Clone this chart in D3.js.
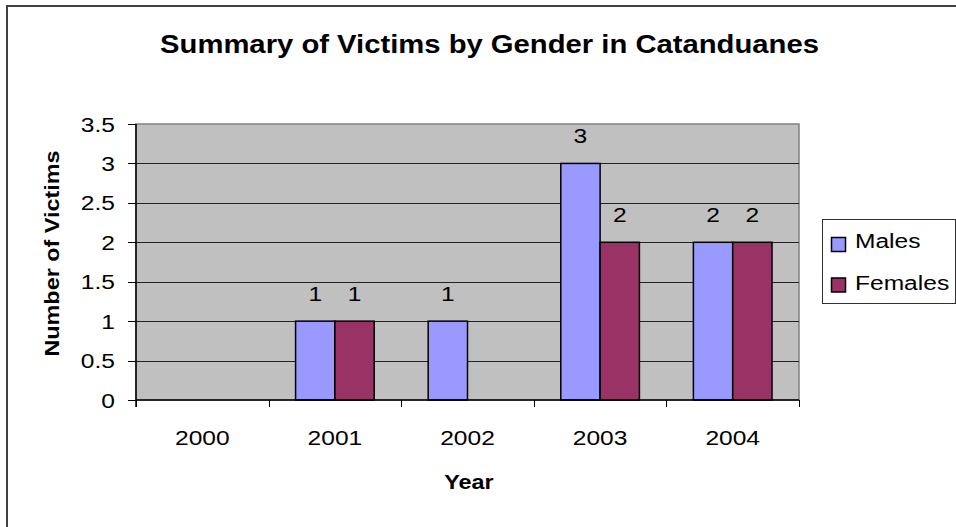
<!DOCTYPE html>
<html><head><meta charset="utf-8">
<script src="https://cdn.jsdelivr.net/npm/d3@7"></script>
<style>body{margin:0;background:#fff}svg{display:block;font-family:Arial,"Liberation Sans",sans-serif}</style>
</head><body><svg id="c" width="956" height="527"></svg>
<script>
const years = ["2000","2001","2002","2003","2004"];
const seriesNames = ["Males","Females"];
const males = [0,1,1,3,2];
const females = [0,1,0,2,2];
const yTicks = [0,0.5,1,1.5,2,2.5,3,3.5];
const colors = ["#9999FF","#993366"];
const title = "Summary of Victims by Gender in Catanduanes";

const SX = 1.17; // horizontal stretch of the original's text
const svg = d3.select("#c");
const L=136,R=799,T=124,B=400;
function txt(parent,x,y,s,opts={}){
  const g = parent.append("g").attr("transform",`translate(${x},${y})${opts.rot?" rotate("+opts.rot+")":""} scale(${SX},1)`);
  const t = g.append("text").attr("x",0).attr("y",0).attr("font-size",opts.size||21)
    .attr("text-anchor",opts.anchor||"middle").attr("fill","#000").text(s);
  if(opts.bold) t.attr("font-weight","bold");
  if(opts.dy) t.attr("dy",opts.dy);
  return t;
}
svg.append("rect").attr("x",7).attr("y",6).attr("width",1000).attr("height",600).attr("fill","#fff").attr("stroke","#404040").attr("stroke-width",2);

const x = d3.scaleBand().domain(years).range([L,R]);
const y = d3.scaleLinear().domain([0,3.5]).range([B,T]);
const x1 = d3.scaleBand().domain(seriesNames).range([x.bandwidth()*0.2035, x.bandwidth()*0.7965]);

svg.append("rect").attr("x",L).attr("y",T).attr("width",R-L).attr("height",B-T).attr("fill","#C0C0C0").attr("stroke","#808080").attr("stroke-width",1.5);
svg.append("g").selectAll("line").data(yTicks.slice(1,-1)).join("line")
  .attr("x1",L).attr("x2",R).attr("y1",d=>Math.round(y(d))+0.5).attr("y2",d=>Math.round(y(d))+0.5).attr("stroke","#222").attr("stroke-width",1);

const data = years.map((yr,i)=>({year:yr, vals:[{k:"Males",v:males[i]},{k:"Females",v:females[i]}]}));
data.forEach(d=>{
  d.vals.filter(e=>e.v>0).forEach(e=>{
    svg.append("rect").attr("x",x(d.year)+x1(e.k)).attr("width",x1.bandwidth()).attr("y",y(e.v)).attr("height",B-y(e.v))
      .attr("fill",colors[seriesNames.indexOf(e.k)]).attr("stroke","#000").attr("stroke-width",1.5);
  });
});
data.forEach(d=>{
  d.vals.filter(e=>e.v>0).forEach(e=>{
    txt(svg, x(d.year)+x1(e.k)+x1.bandwidth()/2, y(e.v)-20, String(e.v));
  });
});

// y axis
const ya = svg.append("g");
ya.append("line").attr("x1",L).attr("x2",L).attr("y1",T).attr("y2",B+7).attr("stroke","#000").attr("stroke-width",1.5);
yTicks.forEach(v=>{
  ya.append("line").attr("x1",L-8).attr("x2",L).attr("y1",Math.round(y(v))+0.5).attr("y2",Math.round(y(v))+0.5).attr("stroke","#000");
  txt(ya, 115, y(v), d3.format("")(v), {anchor:"end", dy:"0.36em"});
});

// x axis
const xa = svg.append("g");
xa.append("line").attr("x1",L).attr("x2",R).attr("y1",B).attr("y2",B).attr("stroke","#000").attr("stroke-width",1.5);
years.map(d=>x(d)).concat([R]).forEach(px=>{
  xa.append("line").attr("x1",Math.round(px)+0.5).attr("x2",Math.round(px)+0.5).attr("y1",B).attr("y2",B+7).attr("stroke","#000");
});
years.forEach(d=>txt(xa, x(d)+x.bandwidth()/2, 445, d));

txt(svg, 489.5, 53, title, {bold:true, size:25});
txt(svg, 469, 489, "Year", {bold:true, size:20});
txt(svg, 58.5, 253.5, "Number of Victims", {bold:true, size:20, rot:-90});

// legend
const lg = svg.append("g");
lg.append("rect").attr("x",822.5).attr("y",219.5).attr("width",133).attr("height",84).attr("fill","#fff").attr("stroke","#333").attr("stroke-width",1);
seriesNames.forEach((s,i)=>{
  lg.append("rect").attr("x",831.5).attr("y",237.5+i*40.5).attr("width",14).attr("height",14)
    .attr("fill",colors[i]).attr("stroke","#000").attr("stroke-width",1.5);
  txt(lg, 855, 248+i*42, s, {anchor:"start"});
});
</script></body></html>
